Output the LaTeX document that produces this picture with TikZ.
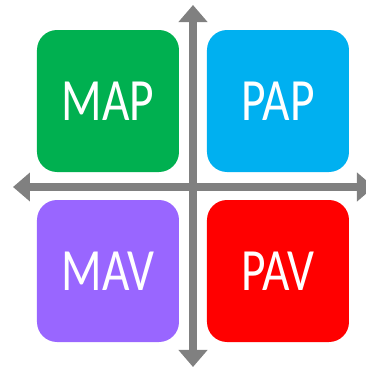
\documentclass[tikz,border=0pt]{standalone}
\usepackage{fontspec}
\setmainfont{Carlito}
\usetikzlibrary{arrows.meta}
\definecolor{mapgreen}{RGB}{0,176,80}
\definecolor{papblue}{RGB}{0,176,240}
\definecolor{mavpurple}{RGB}{153,102,255}
\definecolor{pavred}{RGB}{255,0,0}
\definecolor{axisgray}{RGB}{128,128,128}
\begin{document}
\begin{tikzpicture}[x=1pt,y=1pt,
	quad/.style={rounded corners=20pt,minimum width=142pt,minimum height=142pt,
		inner sep=0pt,text=white,font=\fontsize{60}{60}\selectfont},
	axis/.style={line width=8pt,draw=axisgray},
	tip/.tip={Triangle[length=17pt,width=28pt]}]
	\useasboundingbox (0,0) rectangle (366,368);
	% the four quadrants
	\node[quad,fill=mapgreen] (map) at (108,267) {\scalebox{0.79}[1]{MAP}};
	\node[quad,fill=papblue] (pap) at (278,267) {\scalebox{0.79}[1]{PAP}};
	\node[quad,fill=mavpurple] (mav) at (108,97) {\scalebox{0.79}[1]{MAV}};
	\node[quad,fill=pavred] (pav) at (278,97) {\scalebox{0.79}[1]{PAV}};
	%
	% axes
	\coordinate (xl) at (13,181);
	\coordinate (xr) at (374,181);
	\coordinate (yt) at (193,363);
	\coordinate (yb) at (193,1);
	\draw[axis,tip-tip] (xl) -- (xr);
	\draw[axis,tip-tip] (yb) -- (yt);
\end{tikzpicture}
\end{document}
